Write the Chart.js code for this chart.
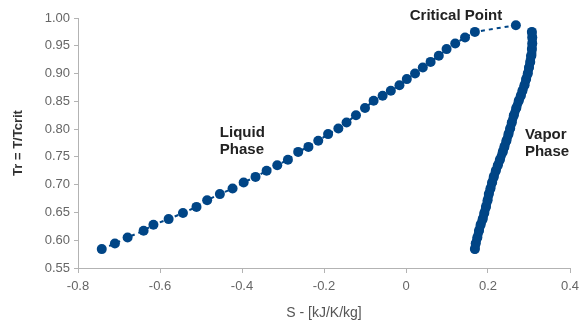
<!DOCTYPE html>
<html>
<head>
<meta charset="utf-8">
<script src="https://cdn.jsdelivr.net/npm/chart.js@4/dist/chart.umd.min.js"></script>
<style>
  html, body { margin: 0; padding: 0; background: #ffffff; }
  #wrap { width: 581px; height: 326px; }
</style>
</head>
<body>
<div id="wrap"><canvas id="chart" width="581" height="326"></canvas></div>
<script>
// Saturated liquid line: reduced temperature and entropy
const liquidTr = [0.584, 0.594, 0.605, 0.617, 0.628, 0.638, 0.649, 0.660, 0.672, 0.683,
  0.693, 0.704, 0.714, 0.725, 0.735, 0.745, 0.759, 0.768, 0.779, 0.791,
  0.801, 0.812, 0.825, 0.838, 0.851, 0.860, 0.869, 0.879, 0.890, 0.900,
  0.911, 0.921, 0.932, 0.944, 0.954, 0.965, 0.975];
const liquidS = [-0.742, -0.710, -0.679, -0.640, -0.616, -0.579, -0.544, -0.511, -0.485, -0.454,
  -0.423, -0.396, -0.367, -0.340, -0.314, -0.288, -0.263, -0.238, -0.214, -0.190,
  -0.165, -0.145, -0.122, -0.100, -0.079, -0.057, -0.037, -0.016, 0.002, 0.022,
  0.041, 0.060, 0.080, 0.099, 0.120, 0.144, 0.168];

// Saturated vapor line at the same reduced temperatures
const vaporTr = liquidTr;
const vaporS = [0.168, 0.170, 0.174, 0.178, 0.182, 0.187, 0.191, 0.195, 0.199, 0.202,
  0.206, 0.210, 0.214, 0.219, 0.224, 0.229, 0.236, 0.240, 0.245, 0.250,
  0.254, 0.258, 0.263, 0.269, 0.275, 0.280, 0.284, 0.289, 0.293, 0.297,
  0.300, 0.303, 0.305, 0.307, 0.308, 0.308, 0.307];

// Critical point
const criticalS = 0.268;
const criticalTr = 0.987;

// Axis ticks
const xTicks = [-0.8, -0.6, -0.4, -0.2, 0, 0.2, 0.4];
const yTicks = [0.55, 0.60, 0.65, 0.70, 0.75, 0.80, 0.85, 0.90, 0.95, 1.00];

// Text notes placed in data coordinates
const notes = [
  { lines: ['Critical Point'], s: 0.122, tr: 1.003, align: 'center' },
  { lines: ['Liquid', 'Phase'], s: -0.454, tr: 0.778, align: 'left' },
  { lines: ['Vapor', 'Phase'], s: 0.290, tr: 0.774, align: 'left' }
];

const BLUE = '#004586';
const AXIS = '#b3b3b3';
const FONT = '"Liberation Sans", Arial, sans-serif';

const liquidPoints = liquidS.map((s, i) => ({ x: s, y: liquidTr[i] }));
liquidPoints.push({ x: criticalS, y: criticalTr });
const vaporPoints = vaporS.map((s, i) => ({ x: s, y: vaporTr[i] }));

const notePlugin = {
  id: 'notes',
  afterDatasetsDraw(chart) {
    const { ctx, scales } = chart;
    ctx.save();
    ctx.fillStyle = '#222222';
    ctx.font = 'bold 15px ' + FONT;
    ctx.textBaseline = 'middle';
    const lh = 17;
    notes.forEach(n => {
      const px = scales.x.getPixelForValue(n.s);
      const py = scales.y.getPixelForValue(n.tr);
      ctx.textAlign = n.align;
      const y0 = py - (n.lines.length - 1) * lh / 2;
      n.lines.forEach((t, i) => ctx.fillText(t, px, y0 + i * lh));
    });
    ctx.restore();
  }
};

new Chart(document.getElementById('chart'), {
  type: 'scatter',
  data: {
    datasets: [
      {
        label: 'Liquid',
        data: liquidPoints,
        showLine: true,
        borderColor: BLUE,
        borderWidth: 2,
        borderDash: [4, 4],
        backgroundColor: BLUE,
        pointBackgroundColor: BLUE,
        pointBorderColor: BLUE,
        pointBorderWidth: 0,
        pointRadius: 5,
        clip: false
      },
      {
        label: 'Vapor',
        data: vaporPoints,
        showLine: true,
        borderColor: BLUE,
        borderWidth: 9,
        borderCapStyle: 'round',
        borderJoinStyle: 'round',
        backgroundColor: BLUE,
        pointBackgroundColor: BLUE,
        pointBorderColor: BLUE,
        pointBorderWidth: 0,
        pointRadius: 5,
        clip: false
      }
    ]
  },
  options: {
    responsive: false,
    animation: false,
    events: [],
    layout: { autoPadding: false, padding: { top: 18, right: 11, left: 0, bottom: 0 } },
    plugins: {
      legend: { display: false },
      tooltip: { enabled: false }
    },
    scales: {
      x: {
        type: 'linear',
        min: xTicks[0],
        max: xTicks[xTicks.length - 1],
        afterBuildTicks(scale) { scale.ticks = xTicks.map(v => ({ value: v })); },
        afterFit(scale) {
          scale.height = 58;
          scale.paddingLeft = 0;
          scale.paddingRight = 0;
        },
        border: { display: true, color: AXIS, width: 1 },
        grid: { display: true, drawOnChartArea: false, drawTicks: true, tickLength: 5, color: AXIS },
        ticks: {
          color: '#666666',
          font: { family: FONT, size: 13 },
          padding: 6,
          maxRotation: 0,
          callback: v => String(Number(v.toFixed(1)))
        },
        title: {
          display: true,
          text: 'S - [kJ/K/kg]',
          color: '#555555',
          font: { family: FONT, size: 14 },
          padding: { top: 0, bottom: 4 }
        }
      },
      y: {
        type: 'linear',
        min: yTicks[0],
        max: yTicks[yTicks.length - 1],
        afterBuildTicks(scale) { scale.ticks = yTicks.map(v => ({ value: v })); },
        afterFit(scale) {
          scale.width = 78;
          scale.paddingTop = 0;
          scale.paddingBottom = 0;
        },
        border: { display: true, color: AXIS, width: 1 },
        grid: { display: true, drawOnChartArea: false, drawTicks: true, tickLength: 4, color: AXIS },
        ticks: {
          color: '#666666',
          font: { family: FONT, size: 13 },
          padding: 4,
          callback: v => v.toFixed(2)
        },
        title: {
          display: true,
          text: 'Tr = T/Tcrit',
          color: '#333333',
          font: { family: FONT, size: 13, weight: 'bold' },
          padding: { top: 11, bottom: 0 }
        }
      }
    }
  },
  plugins: [notePlugin]
});
</script>
</body>
</html>
